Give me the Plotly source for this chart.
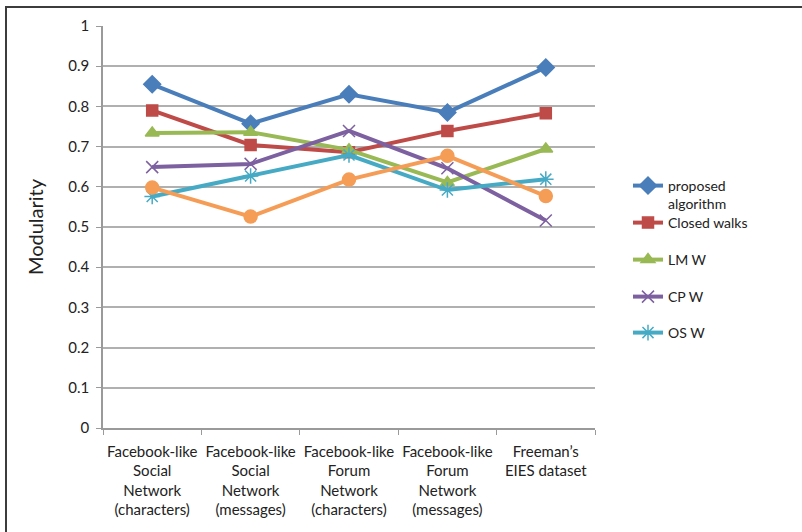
import plotly.graph_objects as go

# Datasets on the category axis
categories = [
    "Facebook-like<br>Social<br>Network<br>(characters)",
    "Facebook-like<br>Social<br>Network<br>(messages)",
    "Facebook-like<br>Forum<br>Network<br>(characters)",
    "Facebook-like<br>Forum<br>Network<br>(messages)",
    "Freeman’s<br>EIES dataset",
]

# Modularity per method
proposed_algorithm = [0.855, 0.757, 0.830, 0.785, 0.897]
closed_walks = [0.790, 0.704, 0.686, 0.739, 0.783]
lm_w = [0.734, 0.736, 0.692, 0.611, 0.694]
cp_w = [0.649, 0.657, 0.739, 0.646, 0.516]
os_w = [0.576, 0.627, 0.679, 0.592, 0.619]
other_method = [0.598, 0.526, 0.618, 0.677, 0.577]

series = [
    ("proposed<br>algorithm", proposed_algorithm, "#4a7ebb", "diamond", 13, True),
    ("Closed walks", closed_walks, "#be4b48", "square", 11, True),
    ("LM W", lm_w, "#98b954", "triangle-up", 12, True),
    ("CP W", cp_w, "#7d60a0", "x-thin-open", 12, True),
    ("OS W", os_w, "#46aac5", "asterisk-open", 13, True),
    ("", other_method, "#f59d56", "circle", 13, False),
]

FONT = "Lato, 'Open Sans', sans-serif"
W, H = 802, 532
L, R, T, B = 103, 595, 26, 428  # plot area in pixels

fig = go.Figure()
legend_rows = [186, 223, 260, 297, 333]
legends = {}
for i, (name, vals, color, sym, size, show) in enumerate(series):
    lg = "legend" if i == 0 else f"legend{i + 1}"
    fig.add_trace(go.Scatter(
        x=categories, y=vals, name=name, mode="lines+markers",
        line=dict(color=color, width=4),
        marker=dict(symbol=sym, size=size, color=color,
                    line=dict(color=color, width=1.5)),
        showlegend=show, legend=lg if show else None,
    ))
    if show:
        ypix = legend_rows[i]
        legends[lg] = dict(
            x=(628 - L) / (R - L), xanchor="left",
            y=(B - ypix) / (B - T) + (16 / (B - T) if i == 0 else 0),
            yanchor="top" if i == 0 else "middle",
            valign="top",
            bgcolor="rgba(0,0,0,0)", borderwidth=0,
            font=dict(family=FONT, size=14, color="#222222"),
            itemwidth=30, tracegroupgap=0,
        )

# Outer frame around the chart
frame_px = (6, 7, 812, 545)
fig.add_shape(
    type="rect", xref="paper", yref="paper",
    x0=(frame_px[0] - L) / (R - L), x1=(frame_px[2] - L) / (R - L),
    y0=(B - frame_px[3]) / (B - T), y1=(B - frame_px[1]) / (B - T),
    line=dict(color="#3c3c3c", width=2), layer="below",
)

fig.update_layout(
    width=W, height=H,
    margin=dict(l=L, r=W - R, t=T, b=H - B, autoexpand=False),
    paper_bgcolor="white", plot_bgcolor="white",
    font=dict(family=FONT, size=15, color="#222222"),
    **legends,
)
fig.update_xaxes(
    type="category", tickson="boundaries", ticks="outside", ticklen=5,
    tickcolor="#9a9a9a", showline=True, linecolor="#9a9a9a", linewidth=1.5,
    showgrid=False, tickfont=dict(family=FONT, size=15, color="#222222"),
    tickangle=0, range=[-0.5, 4.5], automargin=False, ticklabelstandoff=9,
)
fig.update_yaxes(
    range=[0, 1], dtick=0.1, ticks="outside", ticklen=5, tickcolor="#9a9a9a",
    showline=True, linecolor="#9a9a9a", linewidth=1.5,
    showgrid=True, gridcolor="#b0b0b0", gridwidth=1.5, zeroline=False,
    tickfont=dict(family=FONT, size=15, color="#222222"), ticklabelstandoff=4,
    title=dict(text="Modularity", font=dict(family=FONT, size=20, color="#222222"),
               standoff=19),
    automargin=False,
)

fig.write_html("out.html")
